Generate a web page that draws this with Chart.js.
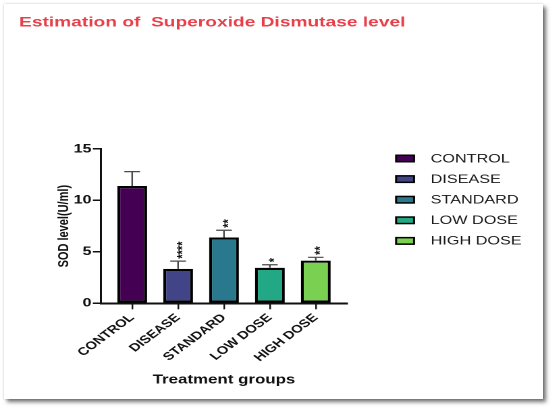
<!DOCTYPE html>
<html><head><meta charset="utf-8">
<script src="https://cdn.jsdelivr.net/npm/chart.js@4.4.1/dist/chart.umd.min.js"></script>
<style>
html,body{margin:0;padding:0;background:#fff;width:555px;height:411px;overflow:hidden;}
#card{position:absolute;left:4px;top:4px;width:539px;height:395px;background:#fff;box-shadow:3px 3px 4px rgba(0,0,0,0.55),0 0 2px rgba(0,0,0,0.2);}
#wrap{position:absolute;left:0;top:0;width:411px;height:411px;transform:scaleX(1.35);transform-origin:0 0;}
</style></head><body>
<div id="card"></div>
<div id="wrap"><canvas id="c"></canvas></div>
<script>
// ---- data ----
const categories = ['CONTROL', 'DISEASE', 'STANDARD', 'LOW DOSE', 'HIGH DOSE'];
const sodMeans = [11.4, 3.35, 6.4, 3.45, 4.15];
const sodErrors = [1.4, 0.75, 0.7, 0.3, 0.32];
const significance = ['', '****', '**', '*', '**'];
const barColors = ['#440154', '#414487', '#2a788e', '#22a884', '#7ad151'];
const yTicks = [0, 5, 10, 15];

const FONT = "'Liberation Sans', Arial, sans-serif";
Chart.defaults.font.family = FONT;

const errorBarPlugin = {
  id: 'errorBars',
  afterDatasetsDraw(chart) {
    const {ctx, scales: {y}} = chart;
    const meta = chart.getDatasetMeta(0);
    ctx.save();
    meta.data.forEach((bar, i) => {
      const cx = bar.x;
      const yTop = y.getPixelForValue(sodMeans[i] + sodErrors[i]);
      ctx.strokeStyle = '#4a4a4a';
      ctx.lineWidth = 1.2;
      ctx.beginPath();
      ctx.moveTo(cx, bar.y);
      ctx.lineTo(cx, yTop);
      ctx.moveTo(cx - 5.8, yTop);
      ctx.lineTo(cx + 5.8, yTop);
      ctx.stroke();
      if (significance[i]) {
        ctx.save();
        ctx.translate(cx, yTop - 2.5);
        ctx.rotate(-Math.PI / 2);
        ctx.font = 'bold 11px ' + FONT;
        ctx.textAlign = 'left';
        ctx.textBaseline = 'alphabetic';
        ctx.fillStyle = '#111';
        ctx.fillText(significance[i], 0, 6.4);
        ctx.restore();
      }
    });
    ctx.restore();
  }
};

const legendPlugin = {
  id: 'sideLegend',
  afterDraw(chart) {
    const {ctx, chartArea} = chart;
    const boxX = chartArea.right + 36.4;
    const textX = chartArea.right + 62;
    ctx.save();
    categories.forEach((c, i) => {
      const yc = chartArea.top + 9.5 + i * 20.6;
      ctx.fillStyle = barColors[i];
      ctx.strokeStyle = '#000';
      ctx.lineWidth = 1.5;
      ctx.fillRect(boxX, yc - 3.25, 13.3, 6.5);
      ctx.strokeRect(boxX, yc - 3.25, 13.3, 6.5);
      ctx.fillStyle = '#1a1a1a';
      ctx.font = '12px ' + FONT;
      ctx.textAlign = 'left';
      ctx.textBaseline = 'middle';
      ctx.fillText(c, textX, yc + 0.5);
    });
    ctx.restore();
  }
};

new Chart(document.getElementById('c'), {
  type: 'bar',
  data: {
    datasets: [{
      data: sodMeans.map((v, i) => ({x: i, y: v})),
      backgroundColor: barColors,
      borderColor: '#000',
      borderWidth: 2.2,
      borderSkipped: false,
      barPercentage: 0.65,
      categoryPercentage: 1.0
    }]
  },
  options: {
    responsive: true,
    maintainAspectRatio: false,
    animation: false,
    devicePixelRatio: 2,
    layout: {padding: {left: 14.1, right: 0, top: 0, bottom: 0}},
    plugins: {
      legend: {display: false},
      tooltip: {enabled: false},
      title: {
        display: true,
        text: 'Estimation of  Superoxide Dismutase level',
        align: 'start',
        color: '#e8404a',
        font: {weight: 'bold', size: 14.2},
        padding: {top: 14, bottom: 117.96}
      }
    },
    scales: {
      x: {
        type: 'linear',
        offset: false,
        min: -0.68,
        max: 4.68,
        afterBuildTicks: s => { s.ticks = categories.map((c, i) => ({value: i})); },
        grid: {offset: false, drawOnChartArea: false, tickLength: 6, color: '#111', lineWidth: 1.2},
        border: {display: true, color: '#111', width: 2},
        ticks: {
          autoSkip: false, minRotation: 45, maxRotation: 45, padding: 2,
          color: '#111', font: {weight: 'bold', size: 11},
          callback: v => categories[v] ?? ''
        },
        title: {
          display: true, text: 'Treatment groups', color: '#111',
          font: {weight: 'bold', size: 12.5}, padding: {top: 0, bottom: 23.5}
        },
        afterFit: s => { s.height = 107.7; }
      },
      y: {
        min: 0,
        max: 15,
        afterBuildTicks: s => { s.ticks = yTicks.map(v => ({value: v})); },
        grid: {drawOnChartArea: false, tickLength: 6, color: '#111', lineWidth: 1.5},
        border: {display: true, color: '#111', width: 1.5},
        ticks: {padding: 1, color: '#111', font: {weight: 'bold', size: 12}},
        title: {
          display: true, text: 'SOD level(U/ml)', color: '#111',
          font: {weight: 'bold', size: 11}, padding: {top: 26.7, bottom: 0}
        },
        afterFit: s => { s.width = 60.7; }
      },
      legendSpace: {
        position: 'right',
        display: true,
        grid: {display: false},
        border: {display: false},
        ticks: {display: false},
        afterFit: s => { s.width = 154; }
      }
    }
  },
  plugins: [errorBarPlugin, legendPlugin]
});
</script>
</body></html>
